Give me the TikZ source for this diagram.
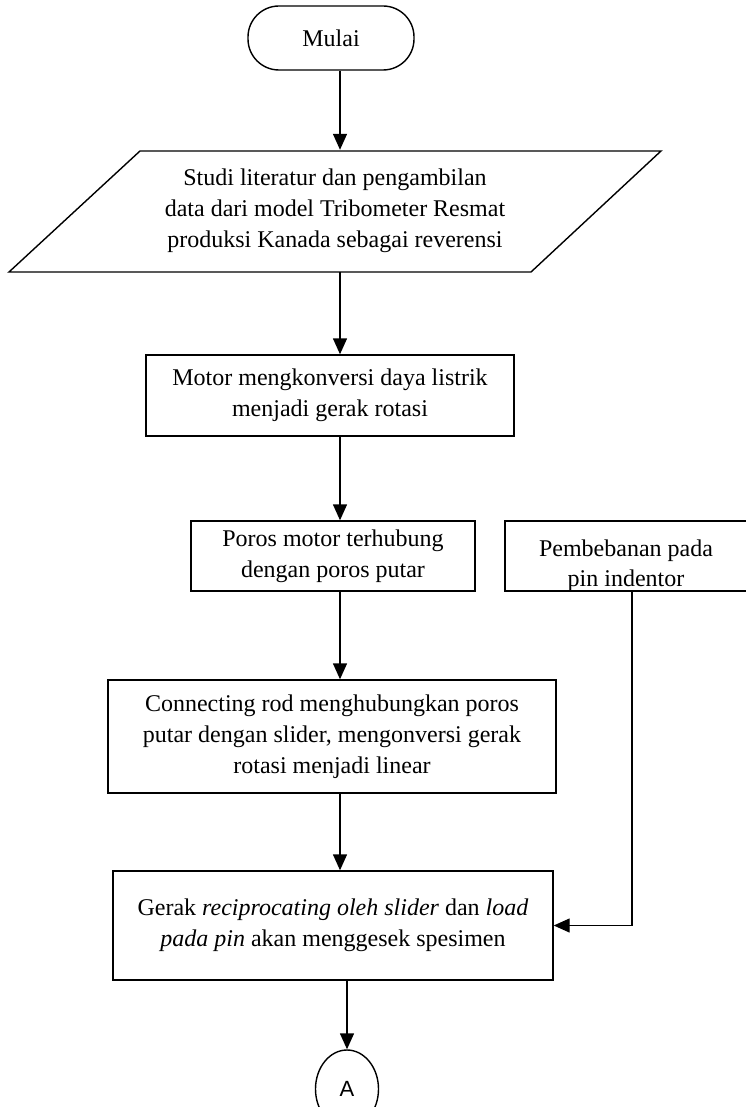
\documentclass[tikz,border=0pt]{standalone}
\usepackage{fontspec}
\setmainfont{Liberation Serif}
\newfontfamily\arialfont{Liberation Sans}
\usetikzlibrary{arrows.meta,shapes.geometric}

\begin{document}
\begin{tikzpicture}[x=1pt,y=-1pt,
		box/.style={draw,line width=1.4pt,align=center,inner sep=0pt,font=\fontsize{24}{31}\selectfont},
		arr/.style={line width=1.4pt,-{Triangle[width=14pt,length=16pt]}}]
		\useasboundingbox (0,0) rectangle (746,1107);
		\coordinate (S1) at (140,151);
		\coordinate (S2) at (661,151);
		\coordinate (S3) at (531,272);
		\coordinate (S4) at (9,272);
		\node[box,rounded corners=31pt,minimum width=166pt,minimum height=64pt] (mulai) at (331,38) {Mulai};
		\draw[line width=1.4pt] (S1) -- (S2) -- (S3) -- (S4) -- cycle;
		\node[box,draw=none,minimum height=121pt] (studi) at (335,211) {Studi literatur dan pengambilan\\data dari model Tribometer Resmat\\produksi Kanada sebagai reverensi};
		\node[box,minimum width=368pt,minimum height=81pt] (motor) at (330,395.5) {Motor mengkonversi daya listrik\\menjadi gerak rotasi};
		\node[box,minimum width=284pt,minimum height=70pt] (poros) at (333,556) {Poros motor terhubung\\dengan poros putar};
		\node[box,minimum width=260pt,minimum height=70pt,
			path picture={\node[align=center,font=\fontsize{24}{30}\selectfont] at ([xshift=-9pt,yshift=-9.5pt]path picture bounding box.center) {Pembebanan pada\\pin indentor};}] (beban) at (635,556) {};
		\node[box,minimum width=448pt,minimum height=113pt] (rod) at (332,736.5) {Connecting rod menghubungkan poros\\putar dengan slider, mengonversi gerak\\rotasi menjadi linear};
		\node[box,minimum width=440pt,minimum height=109pt] (gerak) at (333,925.5) {Gerak \textit{reciprocating oleh slider} dan \textit{load}\\\textit{pada pin} akan menggesek spesimen};
		\node[draw,ellipse,line width=1.4pt,minimum width=63pt,minimum height=78pt,inner sep=0pt,font=\arialfont\fontsize{22}{26}\selectfont] (konA) at (347,1089) {A};
		\draw[arr] (mulai.south -| 340,0) -- (studi.north -| 340,0);
		\draw[arr] (studi.south -| 340,0) -- (motor.north -| 340,0);
		\draw[arr] (motor.south -| 340,0) -- (poros.north -| 340,0);
		\draw[arr] (poros.south -| 340,0) -- (rod.north -| 340,0);
		\draw[arr] (rod.south -| 340,0) -- (gerak.north -| 340,0);
		\draw[arr] (beban.south -| 632,0) |- (gerak.east);
		\draw[arr] (konA.north |- gerak.south) -- (konA.north);
\end{tikzpicture}
\end{document}
